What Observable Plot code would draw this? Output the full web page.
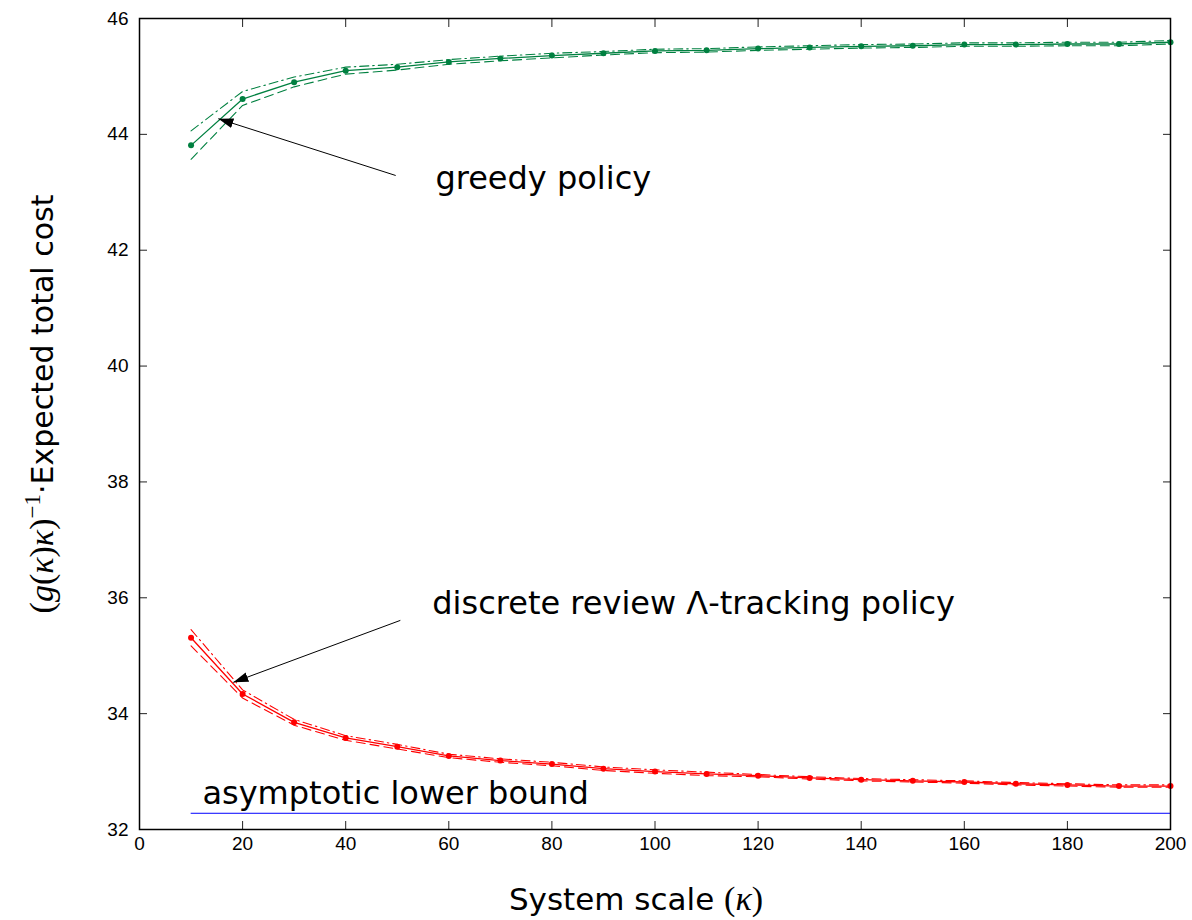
<!DOCTYPE html>
<html><head><meta charset="utf-8">
<script src="https://cdn.jsdelivr.net/npm/d3@7"></script>
<script src="https://cdn.jsdelivr.net/npm/@observablehq/plot@0.6"></script>
<style>body{margin:0;background:#fff}</style>
</head><body><div id="chart"></div>
<script>
// ---- data ----
const kappa = [10,20,30,40,50,60,70,80,90,100,110,120,130,140,150,160,170,180,190,200];
const greedyMean  = [43.81,44.61,44.90,45.10,45.16,45.25,45.31,45.36,45.40,45.44,45.45,45.48,45.50,45.52,45.53,45.55,45.55,45.56,45.56,45.59];
const greedyUpper = [44.06,44.74,44.99,45.16,45.21,45.29,45.35,45.40,45.43,45.47,45.48,45.51,45.53,45.55,45.56,45.58,45.58,45.59,45.59,45.62];
const greedyLower = [43.57,44.50,44.82,45.04,45.11,45.21,45.27,45.32,45.37,45.41,45.42,45.45,45.47,45.49,45.50,45.52,45.52,45.53,45.53,45.56];
const trackMean  = [35.31,34.34,33.85,33.58,33.43,33.27,33.19,33.13,33.05,33.00,32.96,32.93,32.89,32.86,32.84,32.82,32.79,32.77,32.75,32.75];
const trackUpper = [35.45,34.41,33.90,33.62,33.47,33.30,33.22,33.16,33.08,33.03,32.99,32.95,32.91,32.88,32.86,32.84,32.81,32.79,32.77,32.77];
const trackLower = [35.17,34.27,33.80,33.54,33.39,33.24,33.16,33.10,33.02,32.97,32.93,32.91,32.87,32.84,32.82,32.80,32.77,32.75,32.73,32.73];
const boundKappa = [10, 200];
const boundValue = [32.28, 32.28];
const xTicks = [0,20,40,60,80,100,120,140,160,180,200];
const yTicks = [32,34,36,38,40,42,44,46];
// annotations
const noteText = ["greedy policy", "discrete review \u039B-tracking policy", "asymptotic lower bound"];
const noteX = [57.4, 56.8, 12.2];
const noteY = [43.24, 35.90, 32.62];
const arrowX1 = [49.7, 50.6];
const arrowY1 = [43.29, 35.61];
const arrowX2 = [15.3, 18.2];
const arrowY2 = [44.27, 34.54];

const GREEN = "#008040", RED = "#ff0000", BLUE = "#0000ff";
const TICKFONT = "'Liberation Sans', Arial, Helvetica, sans-serif";
const sansFont = "'DejaVu Sans', sans-serif";
const mathFont = "'Liberation Serif', 'DejaVu Serif', serif";

const series = (ys) => kappa.map((k, i) => ({k, v: ys[i]}));
const gM = series(greedyMean), gU = series(greedyUpper), gL = series(greedyLower);
const tM = series(trackMean), tU = series(trackUpper), tL = series(trackLower);
const bound = boundKappa.map((k, i) => ({k, v: boundValue[i]}));
const notes = noteText.map((t, i) => ({t, x: noteX[i], y: noteY[i]}));
const arrows = arrowX1.map((x1, i) => ({x1, y1: arrowY1[i], x2: arrowX2[i], y2: arrowY2[i]}));

const filledHead = (color, context) => {
  const m = d3.create("svg:marker")
    .attr("viewBox", "-15 -6 16 12")
    .attr("markerWidth", 16).attr("markerHeight", 12)
    .attr("markerUnits", "userSpaceOnUse")
    .attr("refX", 0).attr("refY", 0)
    .attr("orient", "auto")
    .attr("fill", color).attr("stroke", "none");
  m.append("path").attr("d", "M0,0L-15,-5L-15,5Z");
  return m.node();
};

const chart = Plot.plot({
  width: 1192, height: 920,
  marginTop: 18, marginRight: 22, marginBottom: 91, marginLeft: 139,
  x: {domain: [0, 200], label: null},
  y: {domain: [32, 46], label: null},
  style: {fontFamily: TICKFONT, fontSize: "19px", background: "#fff", color: "#000"},
  marks: [
    // tick labels
    Plot.axisX(xTicks, {anchor: "bottom", tickSize: 0, tickPadding: 7, label: null, fontSize: 19, fontFamily: TICKFONT, tickFormat: "d"}),
    Plot.axisY(yTicks, {anchor: "left", tickSize: 0, tickPadding: 11, label: null, fontSize: 19, fontFamily: TICKFONT, tickFormat: "d"}),
    // inward ticks
    Plot.axisX(xTicks, {anchor: "bottom", tickSize: -8, text: null, label: null, stroke: "#222"}),
    Plot.axisX(xTicks, {anchor: "top", tickSize: -8, text: null, label: null, stroke: "#222"}),
    Plot.axisY(yTicks, {anchor: "left", tickSize: -8, text: null, label: null, stroke: "#222"}),
    Plot.axisY(yTicks, {anchor: "right", tickSize: -8, text: null, label: null, stroke: "#222"}),
    // lower bound
    Plot.line(bound, {x: "k", y: "v", stroke: BLUE, strokeWidth: 1}),
    // greedy
    Plot.line(gU, {x: "k", y: "v", stroke: GREEN, strokeWidth: 1.1, strokeDasharray: "9,4,1.5,4"}),
    Plot.line(gL, {x: "k", y: "v", stroke: GREEN, strokeWidth: 1.1, strokeDasharray: "9,5"}),
    Plot.line(gM, {x: "k", y: "v", stroke: GREEN, strokeWidth: 1.3}),
    Plot.dot(gM, {x: "k", y: "v", fill: GREEN, r: 3}),
    // tracking
    Plot.line(tU, {x: "k", y: "v", stroke: RED, strokeWidth: 1.1, strokeDasharray: "9,4,1.5,4"}),
    Plot.line(tL, {x: "k", y: "v", stroke: RED, strokeWidth: 1.1, strokeDasharray: "9,5"}),
    Plot.line(tM, {x: "k", y: "v", stroke: RED, strokeWidth: 1.3}),
    Plot.dot(tM, {x: "k", y: "v", fill: RED, r: 3}),
    // annotations
    Plot.link(arrows, {x1: "x1", y1: "y1", x2: "x2", y2: "y2", stroke: "#000", strokeWidth: 1, markerEnd: filledHead}),
    Plot.text(notes, {x: "x", y: "y", text: "t", textAnchor: "start", fontSize: 32, fontFamily: sansFont, fill: "#000"}),
    Plot.frame({stroke: "#000", strokeWidth: 1.5})
  ]
});

const svg = d3.select(chart);

// x-axis label
const xl = svg.append("text")
  .attr("x", 636).attr("y", 910)
  .attr("text-anchor", "middle")
  .attr("font-size", 31).attr("font-family", sansFont).attr("fill", "#000");
xl.append("tspan").text("System scale ");
xl.append("tspan").attr("font-family", mathFont).attr("font-size", 34).text("(");
xl.append("tspan").attr("font-family", mathFont).attr("font-size", 34).attr("font-style", "italic").text("\u03BA");
xl.append("tspan").attr("font-family", mathFont).attr("font-size", 34).text(")");

// y-axis label
const yl = svg.append("text")
  .attr("transform", "translate(53,404) rotate(-90)")
  .attr("text-anchor", "middle")
  .attr("font-size", 30).attr("font-family", sansFont).attr("fill", "#000");
const parts = [["(", false], ["g", true], ["(", false], ["\u03BA", true], [")", false], ["\u03BA", true], [")", false]];
parts.forEach(([t, it]) => {
  const s = yl.append("tspan").attr("font-family", mathFont).attr("font-size", 34).text(t);
  if (it) s.attr("font-style", "italic");
});
yl.append("tspan").attr("font-family", mathFont).attr("font-size", 23).attr("dy", -13).text("\u22121");
yl.append("tspan").attr("dy", 13).text("\u00B7Expected total cost");

document.getElementById("chart").appendChild(chart);
</script>
</body></html>
